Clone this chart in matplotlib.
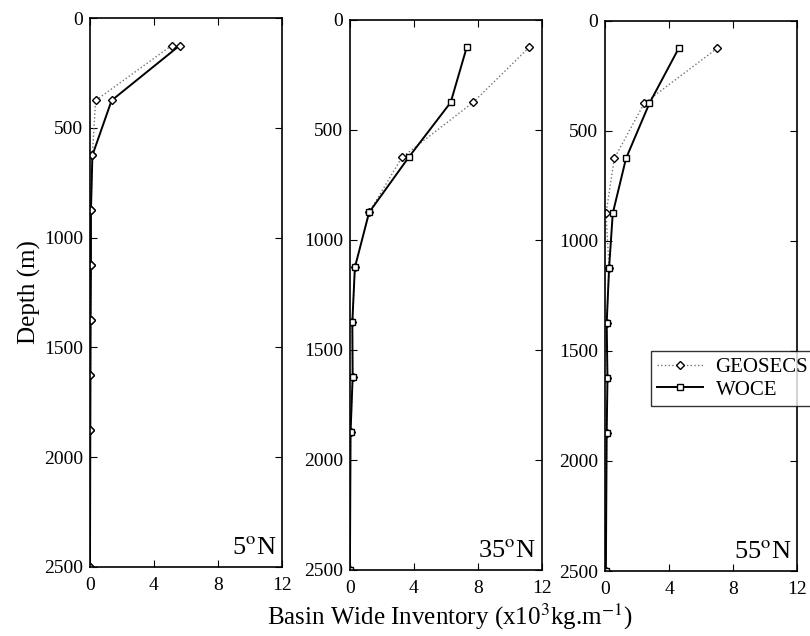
import numpy as np
import matplotlib
matplotlib.use("Agg")
import matplotlib.pyplot as plt

plt.rcParams['font.family'] = ['Liberation Serif', 'DejaVu Serif']
plt.rcParams['mathtext.fontset'] = 'stix'

# depths (m)
depth = [125, 375, 625, 875, 1125, 1375, 1625, 1875, 2500]

# basin wide inventory (x10^3 kg/m) at 5N, 35N, 55N
geosecs_5n = [5.1, 0.35, 0.15, 0.06, 0.06, 0.04, 0.03, 0.02, 0.0]
woce_5n = [5.6, 1.35, 0.15, 0.06, 0.06, 0.04, 0.03, 0.02, 0.0]
geosecs_35n = [11.2, 7.7, 3.25, 1.2, 0.31, 0.15, 0.17, 0.04, 0.0]
woce_35n = [7.3, 6.3, 3.67, 1.2, 0.31, 0.15, 0.17, 0.04, 0.0]
geosecs_55n = [7.0, 2.44, 0.58, 0.06, 0.25, 0.1, 0.15, 0.1, 0.05]
woce_55n = [4.6, 2.77, 1.31, 0.48, 0.25, 0.1, 0.15, 0.1, 0.05]

panel_labels = ['5$^{\\rm o}$N', '35$^{\\rm o}$N', '55$^{\\rm o}$N']
xticks = [0, 4, 8, 12]
yticks = [0, 500, 1000, 1500, 2000, 2500]

fig = plt.figure(figsize=(8.1, 6.36), dpi=100)
boxes = [[0.1111, 0.1085, 0.237, 0.863],
         [0.432, 0.1038, 0.237, 0.865],
         [0.747, 0.1022, 0.237, 0.865]]
series = [(geosecs_5n, woce_5n), (geosecs_35n, woce_35n), (geosecs_55n, woce_55n)]
woce_marker = ['D', 's', 's']  # first panel drawn with diamonds in the original

for i, (box, (g, w)) in enumerate(zip(boxes, series)):
    ax = fig.add_axes(box)
    ax.plot(g, depth, color='0.45', ls=':', lw=1.0, marker='D', ms=3.8,
            mfc='white', mec='black', mew=1.0, label='GEOSECS')
    ax.plot(w, depth, color='black', ls='-', lw=1.4, marker=woce_marker[i], ms=3.8,
            mfc='white', mec='black', mew=1.0, label='WOCE')
    ax.set_xlim(0, 12)
    ax.set_ylim(2500, 0)
    ax.set_xticks(xticks)
    ax.set_yticks(yticks)
    ax.tick_params(direction='in', top=True, right=True, labelsize=14, length=5)
    ax.tick_params(axis='y', pad=5)
    ax.tick_params(axis='x', pad=7)
    for s in ax.spines.values():
        s.set_linewidth(1.2)
    ax.text(0.97, 0.015, panel_labels[i], transform=ax.transAxes, ha='right',
            va='bottom', fontsize=19)
    if i == 0:
        ax.set_ylabel('Depth (m)', fontsize=18, labelpad=2)
    if i == 2:
        ax.legend(loc='upper left', bbox_to_anchor=(651 / 810, 1 - 351 / 636),
                  bbox_transform=fig.transFigure, fontsize=15, frameon=True,
                  fancybox=False, edgecolor='black', borderpad=0.3,
                  handlelength=2.2, handletextpad=0.6, labelspacing=0.15,
                  borderaxespad=0)

fig.text(0.555, 0.006, 'Basin Wide Inventory (x10$^{3}$kg.m$^{-1}$)',
         ha='center', va='bottom', fontsize=18)

fig.savefig('out.png', dpi=100)
